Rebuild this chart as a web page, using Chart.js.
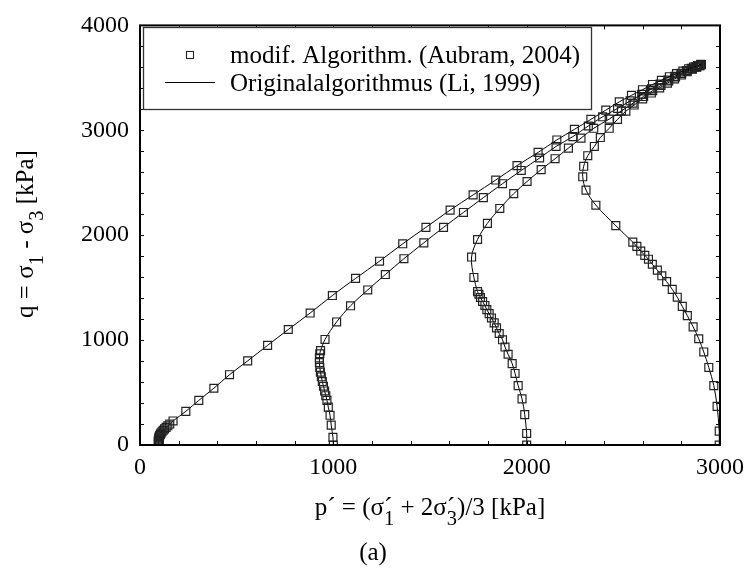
<!DOCTYPE html>
<html>
<head>
<meta charset="utf-8">
<script src="https://cdn.jsdelivr.net/npm/chart.js@4.4.1/dist/chart.umd.min.js"></script>
<style>
  html, body { margin: 0; padding: 0; background: #fff; }
  #wrap { width: 752px; height: 570px; position: relative; }
</style>
</head>
<body>
<div id="wrap"><canvas id="c" width="752" height="570"></canvas></div>
<script>
// Effective stress paths (p' in kPa, q in kPa) for four initial mean stresses
const pathP100 = [100, 98, 96, 95, 95, 95, 96, 97, 99, 102, 105, 109, 114, 120, 127, 135, 144, 154, 171, 237,
  304, 382, 463, 557, 660, 767, 880, 995, 1115, 1239, 1359, 1479, 1604, 1723, 1840, 1950, 2059, 2156, 2247, 2332,
  2409, 2479, 2542, 2599, 2651, 2697, 2738, 2775, 2808, 2838, 2863, 2884, 2900];
const pathQ100 = [0, 8, 16, 25, 35, 45, 55, 66, 77, 89, 101, 113, 126, 140, 154, 168, 183, 200, 229, 321,
  425, 541, 670, 802, 950, 1101, 1258, 1425, 1588, 1752, 1918, 2075, 2239, 2384, 2526, 2663, 2789, 2908, 3009, 3104,
  3192, 3271, 3333, 3387, 3437, 3477, 3511, 3540, 3565, 3587, 3604, 3618, 3628];

const pathP1000 = [1000, 998, 989, 983, 974, 967, 961, 955, 949, 943, 938, 933, 930, 928, 928, 930, 934, 957, 1017, 1089,
  1178, 1269, 1365, 1468, 1570, 1673, 1776, 1875, 1972, 2067, 2152, 2239, 2319, 2393, 2470, 2535, 2595, 2645, 2690, 2730,
  2766, 2798, 2826, 2851, 2872, 2889, 2902];
const pathQ1000 = [0, 73, 189, 283, 361, 425, 470, 515, 560, 605, 650, 695, 740, 785, 830, 870, 900, 1006, 1173, 1327,
  1478, 1625, 1776, 1927, 2075, 2217, 2358, 2491, 2617, 2736, 2846, 2940, 3041, 3129, 3208, 3280, 3343, 3395, 3440, 3479,
  3514, 3544, 3569, 3590, 3606, 3618, 3627];

const pathP2000 = [2000, 2000, 1990, 1976, 1956, 1940, 1925, 1904, 1888, 1875, 1858, 1844, 1832, 1818, 1806, 1794, 1784, 1772, 1761, 1753,
  1746, 1727, 1715, 1746, 1797, 1861, 1933, 2002, 2075, 2147, 2216, 2281, 2347, 2427, 2490, 2550, 2605, 2652, 2695, 2735,
  2770, 2802, 2830, 2855, 2877, 2893, 2904];
const pathQ2000 = [0, 110, 290, 440, 566, 682, 776, 865, 934, 1003, 1063, 1116, 1164, 1211, 1252, 1290, 1330, 1368, 1406, 1437,
  1462, 1597, 1792, 1959, 2113, 2255, 2396, 2512, 2625, 2729, 2830, 2925, 3019, 3107, 3185, 3258, 3322, 3378, 3428, 3470,
  3508, 3540, 3566, 3588, 3605, 3617, 3626];

const pathP3000 = [2996, 2996, 2985, 2968, 2942, 2916, 2890, 2861, 2831, 2805, 2779, 2753, 2724, 2699, 2676, 2650, 2630, 2611, 2590, 2570,
  2549, 2461, 2358, 2307, 2290, 2295, 2316, 2350, 2381, 2427, 2470, 2513, 2556, 2600, 2645, 2688, 2728, 2765, 2800, 2830,
  2857, 2880, 2897];
const pathQ3000 = [0, 132, 368, 566, 739, 887, 1013, 1126, 1233, 1321, 1409, 1484, 1557, 1613, 1667, 1723, 1771, 1808, 1849, 1893,
  1934, 2091, 2286, 2430, 2557, 2657, 2758, 2846, 2931, 3019, 3104, 3182, 3241, 3300, 3355, 3405, 3450, 3490, 3527, 3558,
  3582, 3602, 3616];

// Axis ranges and tick spacing
const xRange = [0, 3000];
const yRange = [0, 4000];
const tickStep = 200;
const labelStep = 1000;

const legendLabels = ['modif. Algorithm. (Aubram, 2004)', 'Originalalgorithmus (Li, 1999)'];

const SERIF = "'Liberation Serif', 'Times New Roman', Times, serif";
const MARKER_COLOR = '#222';

const paths = [
  [pathP100, pathQ100],
  [pathP1000, pathQ1000],
  [pathP2000, pathQ2000],
  [pathP3000, pathQ3000]
];

const datasets = paths.map(([ps, qs]) => ({
  data: ps.map((p, i) => ({ x: p, y: qs[i] })),
  showLine: true,
  borderColor: '#000',
  borderWidth: 1,
  tension: 0.35,
  pointStyle: 'rect',
  pointRadius: 5.6,
  pointHoverRadius: 5.6,
  pointBorderColor: MARKER_COLOR,
  pointBorderWidth: 1.2,
  pointBackgroundColor: 'rgba(0,0,0,0)'
}));

// Draws a line of text made of pieces, some of them set as subscripts.
function drawRich(ctx, segs, size, cx, baseline) {
  const subSize = size * 0.82;
  const widths = segs.map(s => {
    ctx.font = (s.sub ? subSize : size) + 'px ' + SERIF;
    return s.overlay ? 0 : ctx.measureText(s.t).width;
  });
  const total = widths.reduce((a, b) => a + b, 0);
  let x = cx - total / 2;
  ctx.textAlign = 'left';
  ctx.textBaseline = 'alphabetic';
  segs.forEach((s, i) => {
    ctx.font = (s.sub ? subSize : size) + 'px ' + SERIF;
    ctx.fillText(s.t, x, baseline + (s.sub ? size * 0.38 : 0));
    x += widths[i];
  });
}

const xTitle = [
  { t: 'p' }, { t: '\u00B4' }, { t: ' = (' }, { t: '\u03C3' }, { t: '\u00B4', overlay: true }, { t: '1', sub: true },
  { t: ' + 2' }, { t: '\u03C3' }, { t: '\u00B4', overlay: true }, { t: '3', sub: true }, { t: ')/3 [kPa]' }
];
const yTitle = [
  { t: 'q = \u03C3' }, { t: '1', sub: true }, { t: ' - \u03C3' }, { t: '3', sub: true }, { t: ' [kPa]' }
];

const framePlugin = {
  id: 'frame',
  afterDatasetsDraw(chart) {
    const { ctx, chartArea: a, scales: { x, y } } = chart;
    const len = 4;
    ctx.save();
    ctx.strokeStyle = '#000';
    ctx.lineWidth = 1;
    ctx.beginPath();
    x.ticks.forEach(t => {
      const px = Math.round(x.getPixelForValue(t.value)) + 0.5;
      ctx.moveTo(px, a.bottom); ctx.lineTo(px, a.bottom - len);
      ctx.moveTo(px, a.top); ctx.lineTo(px, a.top + len);
    });
    y.ticks.forEach(t => {
      const py = Math.round(y.getPixelForValue(t.value)) + 0.5;
      ctx.moveTo(a.left, py); ctx.lineTo(a.left + len, py);
      ctx.moveTo(a.right, py); ctx.lineTo(a.right - len, py);
    });
    ctx.stroke();
    ctx.lineWidth = 2;
    ctx.strokeRect(a.left, a.top, a.right - a.left, a.bottom - a.top);
    ctx.restore();
  },
  afterDraw(chart) {
    const { ctx } = chart;
    ctx.save();
    // legend box
    ctx.fillStyle = '#fff';
    ctx.fillRect(143, 27, 449, 83);
    ctx.strokeStyle = '#333';
    ctx.lineWidth = 1.3;
    ctx.strokeRect(143.5, 27.5, 448, 82);
    // marker sample
    ctx.strokeStyle = MARKER_COLOR;
    ctx.lineWidth = 1.1;
    ctx.strokeRect(186.5, 51.5, 7, 7);
    // line sample
    ctx.strokeStyle = '#000';
    ctx.lineWidth = 1;
    ctx.beginPath();
    ctx.moveTo(165, 82.5); ctx.lineTo(215, 82.5);
    ctx.stroke();
    ctx.fillStyle = '#000';
    ctx.font = '25px ' + SERIF;
    ctx.textAlign = 'left';
    ctx.textBaseline = 'alphabetic';
    ctx.fillText(legendLabels[0], 230, 63);
    ctx.fillText(legendLabels[1], 230, 91);

    // axis titles
    drawRich(ctx, xTitle, 25, 430, 515);
    ctx.translate(33, 234);
    ctx.rotate(-Math.PI / 2);
    drawRich(ctx, yTitle, 25, 0, 0);
    ctx.setTransform(1, 0, 0, 1, 0, 0);

    // panel label
    ctx.font = '25px ' + SERIF;
    ctx.textAlign = 'center';
    ctx.fillText('(a)', 373, 560);
    ctx.restore();
  }
};

const tickFont = { family: SERIF, size: 24 };

new Chart(document.getElementById('c'), {
  type: 'scatter',
  data: { datasets },
  options: {
    responsive: false,
    animation: false,
    devicePixelRatio: 1,
    events: [],
    layout: { padding: { top: 21, right: 29, left: 0, bottom: 0 } },
    plugins: { legend: { display: false }, tooltip: { enabled: false } },
    scales: {
      x: {
        type: 'linear', position: 'bottom', min: xRange[0], max: xRange[1],
        grid: { display: false, drawTicks: false },
        border: { display: false },
        ticks: {
          stepSize: tickStep, autoSkip: false, maxRotation: 0, padding: 8, color: '#000', font: tickFont,
          callback: v => (v % labelStep === 0 ? String(v) : '')
        },
        afterFit: s => { s.height = 125; }
      },
      y: {
        type: 'linear', position: 'left', min: yRange[0], max: yRange[1],
        grid: { display: false, drawTicks: false },
        border: { display: false },
        ticks: {
          stepSize: tickStep, autoSkip: false, padding: 11, color: '#000', font: tickFont,
          callback: v => (v % labelStep === 0 ? String(v) : '')
        },
        afterFit: s => { s.width = 140; }
      }
    }
  },
  plugins: [framePlugin]
});
</script>
</body>
</html>
